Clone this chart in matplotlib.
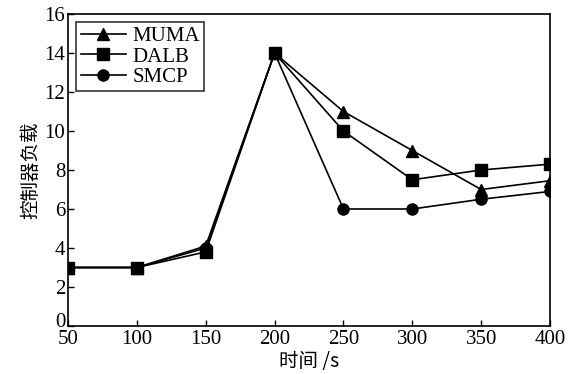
import matplotlib.pyplot as plt
import matplotlib.transforms as mtransforms

plt.rcParams['font.family'] = ['Liberation Serif', 'Noto Sans CJK SC']

tiempo = [50, 100, 150, 200, 250, 300, 350, 400]
muma = [3, 3, 4.1, 14, 11, 9, 7, 7.45]
dalb = [3, 3, 3.8, 14, 10, 7.5, 8, 8.3]
smcp = [3, 3, 4.0, 14, 6, 6, 6.5, 6.9]

fig = plt.figure(figsize=(5.71, 3.74), dpi=100)
ax = fig.add_axes([68/571, 48/374, 482/571, 312/374])

ax.plot(tiempo, muma, color='black', marker='^', markersize=8, linewidth=1.2, label='MUMA')
ax.plot(tiempo, dalb, color='black', marker='s', markersize=8, linewidth=1.2, label='DALB')
ax.plot(tiempo, smcp, color='black', marker='o', markersize=8, linewidth=1.2, label='SMCP')

ax.set_xlim(50, 400)
ax.set_ylim(0, 16)
ax.set_xticks(range(50, 401, 50))
ax.set_yticks(range(0, 17, 2))
ax.tick_params(direction='in', labelsize=15, length=4, width=1)
ax.tick_params(axis='y', pad=2)
ax.tick_params(axis='x', pad=3)
for s in ax.spines.values():
    s.set_linewidth(1.2)

# subir un poco el "0" para que no choque con el "50"
lbl0 = ax.get_yticklabels()[0]
lbl0.set_transform(lbl0.get_transform() + mtransforms.ScaledTranslation(0, 4/72, fig.dpi_scale_trans))

ax.set_xlabel('时间 /s', fontsize=14, labelpad=1,
              family=['Noto Sans CJK SC', 'Liberation Serif'])
ax.set_ylabel('控制器负载', fontsize=14, labelpad=2,
              family=['Noto Sans CJK SC', 'Liberation Serif'])

leg = ax.legend(loc='upper left', fontsize=15, frameon=True, fancybox=False,
                edgecolor='black', handlelength=2.2, handletextpad=0.3,
                labelspacing=0.05, borderpad=0.2, borderaxespad=0.4)
leg.get_frame().set_linewidth(1.2)

plt.savefig('out.png', dpi=100)
